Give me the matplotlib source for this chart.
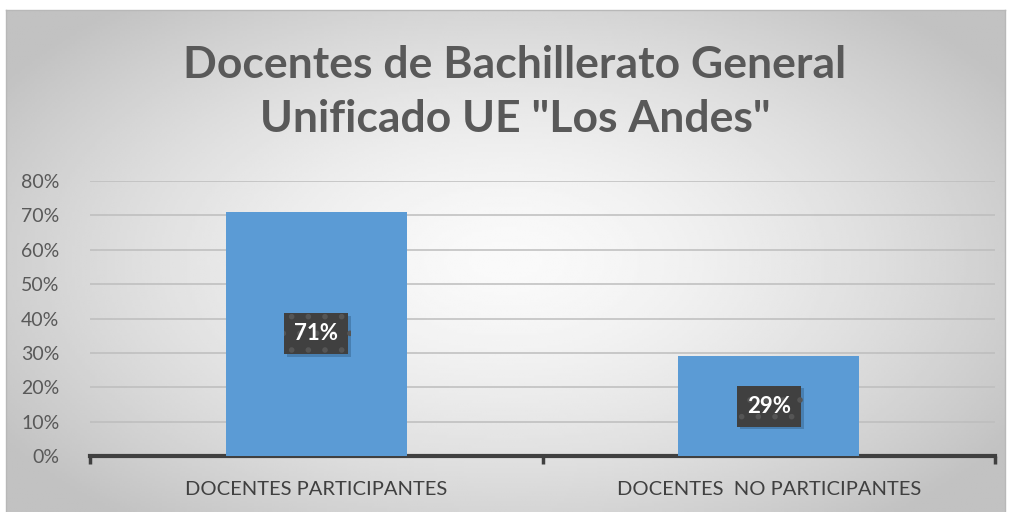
import matplotlib.pyplot as plt
import matplotlib.patheffects as pe
import numpy as np

plt.rcParams['font.family'] = ['Lato', 'DejaVu Sans']
plt.rcParams['hatch.linewidth'] = 1.6

categories = ["DOCENTES PARTICIPANTES", "DOCENTES  NO PARTICIPANTES"]
values = [0.71, 0.29]
labels = ["71%", "29%"]
yticks = [0, 0.1, 0.2, 0.3, 0.4, 0.5, 0.6, 0.7, 0.8]

W, H = 1010, 512
fig = plt.figure(figsize=(W / 100, H / 100), dpi=100)
fig.patch.set_facecolor('white')

# radial gradient background of the chart area
bg = fig.add_axes([6 / W, 0, 999 / W, 502 / H], zorder=0)
xx, yy = np.meshgrid(np.linspace(-1, 1, 400), np.linspace(-1, 1, 200))
r = np.clip(np.sqrt(xx ** 2 + (yy * 0.9) ** 2) / 1.2, 0, 1)
shade = 0.98 - 0.22 * r ** 1.5
bg.imshow(shade, cmap='gray', vmin=0, vmax=1, aspect='auto', extent=[0, 1, 0, 1])
bg.set_xlim(0, 1)
bg.set_ylim(0, 1)
for s in bg.spines.values():
    s.set_color('#b8b8b8')
    s.set_linewidth(1)
bg.spines['bottom'].set_visible(False)
bg.set_xticks([])
bg.set_yticks([])

ax = fig.add_axes([90 / W, (H - 456) / H, 905 / W, 275 / H], zorder=2)
ax.patch.set_visible(False)
x = np.arange(len(categories))
ax.bar(x, values, width=0.4, color='#5b9bd5', zorder=3)
ax.set_xlim(-0.5, 1.5)
ax.set_ylim(0, 0.8)
ax.set_yticks(yticks)
ax.set_yticklabels(["{:.0f}%".format(v * 100) for v in yticks])
ax.grid(axis='y', color='#bdbdbd', linewidth=1.1, zorder=0)
ax.set_axisbelow(True)
for s in ['top', 'right', 'left']:
    ax.spines[s].set_visible(False)
ax.spines['bottom'].set_color('#404040')
ax.spines['bottom'].set_linewidth(3)
ax.tick_params(axis='y', length=0, labelsize=14, labelcolor='#595959', pad=22)
ax.set_xticks([-0.5, 0.5, 1.5])
ax.set_xticklabels([])
ax.set_xticks(x, minor=True)
ax.set_xticklabels(categories, minor=True)
ax.tick_params(axis='x', which='major', length=6, width=2.5, color='#404040')
ax.tick_params(axis='x', which='minor', length=0, labelsize=14.5, labelcolor='#404040', pad=18)

for xi, v, lab in zip(x, values, labels):
    t = ax.text(xi, v / 2, lab, ha='center', va='center', fontsize=16, fontweight='bold',
                color='white', zorder=5,
                bbox=dict(boxstyle='square,pad=0.45', facecolor='#404040', edgecolor='#555555',
                          linewidth=0, hatch='.'))
    t.get_bbox_patch().set_path_effects([
        pe.SimplePatchShadow(offset=(2, -2), shadow_rgbFace='#1f3f60', alpha=0.3),
        pe.Normal()])

fig.text(515 / W, 1 - 92 / H, 'Docentes de Bachillerato General\nUnificado UE "Los Andes"',
         ha='center', va='center', fontsize=32, fontweight='bold', color='#595959',
         linespacing=1.42)

fig.savefig('out.png', dpi=100)
